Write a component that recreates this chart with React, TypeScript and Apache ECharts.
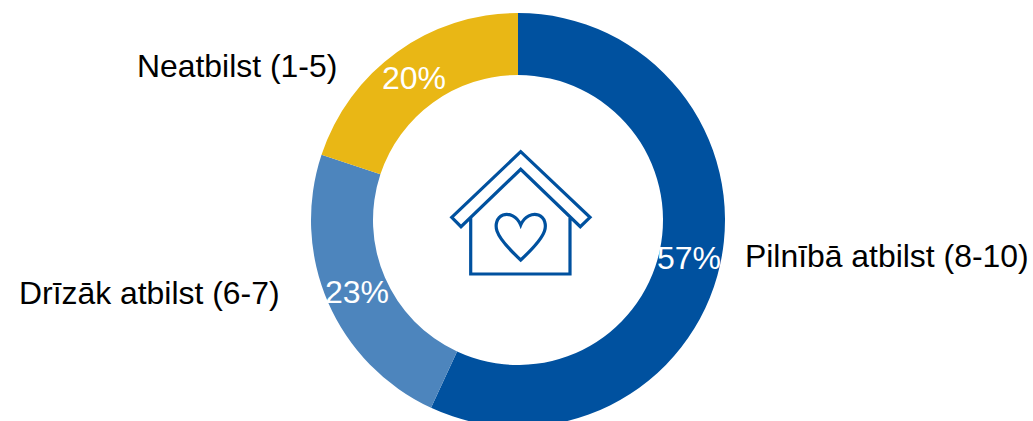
import React, { useEffect, useRef } from "react";
import * as echarts from "echarts";

const categories = ["Pilnībā atbilst (8-10)", "Drīzāk atbilst (6-7)", "Neatbilst (1-5)"];
const values = [56.9, 23.2, 19.9];
const colors = ["#00519F", "#4D85BD", "#E9B715"];

const percentLabelAnchors = [
  { x: 689, y: 258 },
  { x: 357, y: 292 },
  { x: 414, y: 78 },
];
const nameLabelAnchors = [
  { x: 745, y: 256 },
  { x: 19, y: 293 },
  { x: 137, y: 66 },
];

const FONT = '"Liberation Sans", Arial, sans-serif';

const HOUSE_PATH =
  "M451.7 217.3 L520.7 151.7 L590 217.3 L580.3 226.7 L520.7 169.3 L461 226.7 Z " +
  "M470.7 218 L470.7 274 L570 274 L570 218 " +
  "M520.7 225 C517 216 509 213 503 215 C496.5 217.5 495 225 497 231 C500 240 511 251 520.7 260 " +
  "C530.4 251 541.5 240 544.5 231 C546.5 225 545 217.5 538.5 215 C532.5 213 524.5 216 520.7 225 Z";

echarts.graphic.registerShape("houseIcon", echarts.graphic.extendPath(HOUSE_PATH, {}) as any);

export default function App() {
  const ref = useRef<HTMLDivElement>(null);

  useEffect(() => {
    document.body.style.margin = "0";
    const chart = echarts.init(ref.current!, undefined, { renderer: "svg" });
    const data = categories.map((name, i) => ({
      name,
      value: values[i],
      itemStyle: { color: colors[i] },
    }));
    chart.setOption({
      animation: false,
      backgroundColor: "#ffffff",
      series: [
        {
          type: "pie",
          center: [518, 220],
          radius: [145, 207],
          startAngle: 90,
          clockwise: true,
          silent: true,
          avoidLabelOverlap: false,
          data,
          label: {
            show: true,
            position: "inside",
            formatter: (p: any) => `${Math.round(p.value)}%`,
            color: "#ffffff",
            fontFamily: FONT,
            fontSize: 32,
          },
          labelLine: { show: false },
          labelLayout: (p: any) => ({
            x: percentLabelAnchors[p.dataIndex].x,
            y: percentLabelAnchors[p.dataIndex].y,
            align: "center",
            verticalAlign: "middle",
          }),
        },
        {
          type: "pie",
          center: [518, 220],
          radius: [145, 207],
          startAngle: 90,
          clockwise: true,
          silent: true,
          avoidLabelOverlap: false,
          z: 1,
          data: data.map((d) => ({ ...d, itemStyle: { color: "transparent" } })),
          label: {
            show: true,
            position: "outside",
            formatter: "{b}",
            color: "#000000",
            fontFamily: FONT,
            fontSize: 31.9,
          },
          labelLine: { show: false },
          labelLayout: (p: any) => ({
            x: nameLabelAnchors[p.dataIndex].x,
            y: nameLabelAnchors[p.dataIndex].y,
            align: "left",
            verticalAlign: "middle",
          }),
        },
      ],
      graphic: [
        {
          type: "houseIcon",
          x: 0,
          y: 0,
          silent: true,
          style: { fill: "none", stroke: "#00519F", lineWidth: 3.2, lineJoin: "miter" },
        },
      ],
    });
    return () => chart.dispose();
  }, []);

  return <div ref={ref} style={{ width: 1033, height: 421 }} />;
}
